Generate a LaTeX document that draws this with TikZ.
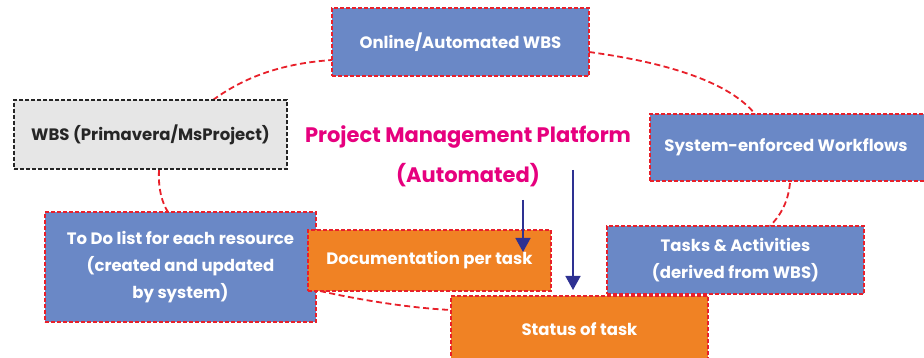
\documentclass[tikz,border=0pt]{standalone}
\usepackage{fontspec}
\setmainfont{Poppins}
\usetikzlibrary{arrows.meta}
\definecolor{boxblue}{HTML}{6A88C6}
\definecolor{boxorange}{HTML}{F08224}
\definecolor{boxgray}{HTML}{E6E6E6}
\definecolor{dashred}{HTML}{E8202A}
\definecolor{titlemag}{HTML}{E6007E}
\definecolor{navy}{HTML}{2E3192}
\tikzset{
  bluebox/.style={draw=dashred, dash pattern=on 4pt off 2pt, line width=2pt, fill=boxblue, text=white, font=\fontsize{16.5}{27}\selectfont\bfseries, align=center, inner sep=0pt},
  orangebox/.style={bluebox, fill=boxorange},
  graybox/.style={draw=black!85, dash pattern=on 4pt off 2pt, line width=1.8pt, fill=boxgray, text=black!85, font=\fontsize{16.5}{20}\selectfont\bfseries, inner sep=0pt},
  link/.style={draw=dashred, dash pattern=on 6pt off 3.5pt, line width=1.8pt},
  navyarrow/.style={draw=navy, line width=1.6pt, -{Triangle[length=14pt,width=15pt]}},
}
\begin{document}
\begin{tikzpicture}[x=1pt,y=1pt]
\useasboundingbox (0,0) rectangle (924,358);
% links (drawn first)
\coordinate (l1a) at (213,258);
\coordinate (l1b) at (332,298);
\draw[link] (l1a) .. controls (250,285) and (290,295) .. (l1b);
\coordinate (l2a) at (589,306);
\coordinate (l2b) at (755,244);
\draw[link] (l2a) .. controls (670,295) and (730,275) .. (l2b);
\coordinate (l3a) at (790,175);
\coordinate (l3b) at (770,132);
\draw[link] (l3a) .. controls (788,155) and (780,142) .. (l3b);
\coordinate (l4a) at (159,188);
\coordinate (l4b) at (168,146);
\draw[link] (l4a) .. controls (158,170) and (162,155) .. (l4b);
\coordinate (l5a) at (320,67);
\coordinate (l5b) at (451,48);
\draw[link] (l5a) .. controls (360,58) and (410,50) .. (l5b);
% boxes
\node[bluebox, minimum width=257pt, minimum height=68pt] (online) at (460.5,316) {Online/Automated WBS};
\node[graybox, minimum width=273pt, minimum height=69pt] (wbs) at (150.5,223.5) {WBS (Primavera/MsProject)};
\node[bluebox, minimum width=280pt, minimum height=67pt] (sys) at (790,210.5) {\hspace*{-8pt}System-enforced Workflows};
\node[bluebox, minimum width=271pt, minimum height=110pt] (todo) at (180.5,91) {To Do list for each resource\\(created and updated\\by system)};
\node[bluebox, minimum width=257pt, minimum height=68pt] (tasks) at (735.5,98) {Tasks \& Activities\\(derived from WBS)};
\node[orangebox, minimum width=243pt, minimum height=61pt] (doc) at (429.5,97.5) {Documentation per task};
\node[orangebox, minimum width=257pt, minimum height=66pt] (status) at (579.5,29) {Status of task};
% title
\node[text=titlemag, font=\fontsize{21}{40}\selectfont\bfseries, align=center] (title) at (468,202) {Project Management Platform\\(Automated)};
% arrows
\coordinate (a1s) at (523,158);
\coordinate (a1e) at (523,106);
\coordinate (a2s) at (573,188);
\coordinate (a2e) at (573,68);
\draw[navyarrow] (a1s) -- (a1e);
\draw[navyarrow] (a2s) -- (a2e);
\end{tikzpicture}
\end{document}
